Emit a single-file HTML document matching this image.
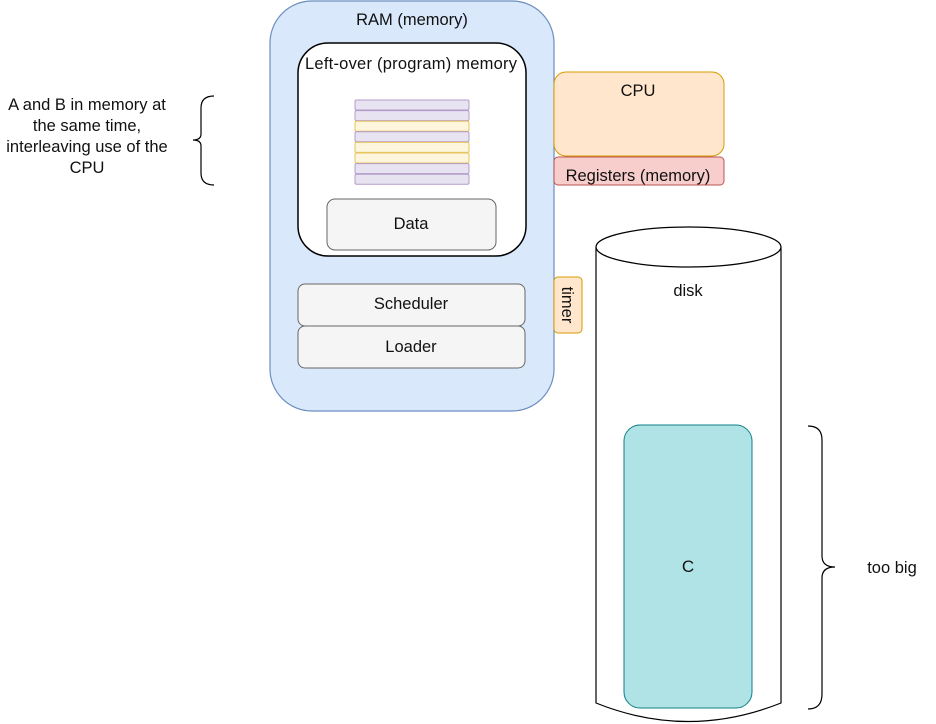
<!DOCTYPE html>
<html><head><style>body{margin:0;background:#fff}svg{display:block}text{font-family:"Liberation Sans",Arial,sans-serif;fill:#111}</style></head><body>
<svg width="936" height="724" viewBox="0 0 936 724" xmlns="http://www.w3.org/2000/svg">
<rect x="270" y="1" width="284" height="410" rx="42" fill="#dae8fc" stroke="#6c8ebf" stroke-width="1.2"/>
<text x="412" y="25" font-size="16.5" text-anchor="middle">RAM (memory)</text>
<rect x="298" y="43" width="228" height="213" rx="30" fill="#fff" stroke="#000" stroke-width="1.5"/>
<text x="411" y="69" font-size="16.5" text-anchor="middle" textLength="212">Left-over (program) memory</text>
<g stroke-width="1">
<rect x="355" y="100" width="114" height="10" rx="1.5" fill="#e8e3f0" stroke="#b49cc9"/>
<rect x="355" y="110.6" width="114" height="10" rx="1.5" fill="#e8e3f0" stroke="#b49cc9"/>
<rect x="355" y="121.2" width="114" height="10" rx="1.5" fill="#fdf5dc" stroke="#e6c560"/>
<rect x="355" y="131.8" width="114" height="10" rx="1.5" fill="#e8e3f0" stroke="#b49cc9"/>
<rect x="355" y="142.4" width="114" height="10" rx="1.5" fill="#fdf5dc" stroke="#e6c560"/>
<rect x="355" y="153" width="114" height="10" rx="1.5" fill="#fdf5dc" stroke="#e6c560"/>
<rect x="355" y="163.6" width="114" height="10" rx="1.5" fill="#e8e3f0" stroke="#b49cc9"/>
<rect x="355" y="174.2" width="114" height="10" rx="1.5" fill="#e8e3f0" stroke="#b49cc9"/>
</g>
<rect x="327" y="199" width="169" height="51" rx="8" fill="#f5f5f5" stroke="#666"/>
<text x="411" y="229" font-size="16.5" text-anchor="middle" fill="#333">Data</text>
<rect x="298" y="284" width="227" height="42" rx="7" fill="#f5f5f5" stroke="#666"/>
<text x="411" y="309" font-size="16.5" text-anchor="middle" fill="#333">Scheduler</text>
<rect x="298" y="326" width="227" height="42" rx="7" fill="#f5f5f5" stroke="#666"/>
<text x="411" y="352" font-size="16.5" text-anchor="middle" fill="#333">Loader</text>
<rect x="554" y="72" width="170" height="84" rx="12" fill="#ffe6cc" stroke="#d79b00"/>
<text x="638" y="96" font-size="16.5" text-anchor="middle">CPU</text>
<rect x="554" y="157" width="170" height="28" rx="4" fill="#f8cecc" stroke="#b85450"/>
<text x="638" y="181" font-size="16.5" text-anchor="middle">Registers (memory)</text>
<rect x="554" y="277" width="28" height="56" rx="4" fill="#ffe6cc" stroke="#d79b00"/>
<text transform="translate(562,305) rotate(90)" font-size="16.5" text-anchor="middle">timer</text>
<path d="M596 247 L596 703 Q688 740 781 703 L781 247" fill="#fff" stroke="#000" stroke-width="1.2"/>
<ellipse cx="688.5" cy="247" rx="92.5" ry="20" fill="#fff" stroke="#000" stroke-width="1.2"/>
<text x="688" y="296" font-size="16.5" text-anchor="middle">disk</text>
<rect x="624" y="425" width="128" height="283" rx="16" fill="#b0e3e6" stroke="#0e8088"/>
<text x="688" y="572" font-size="17" text-anchor="middle">C</text>
<path d="M808 426 Q822 426 822 440 L822 556 Q822 567 835 567 Q822 567 822 578 L822 694 Q822 709 808 709" fill="none" stroke="#000" stroke-width="1.2"/>
<text x="892" y="573" font-size="16.5" text-anchor="middle">too big</text>
<path d="M214 96 Q201 96 201 108 L201 134 Q201 140 193 140 Q201 140 201 146 L201 173 Q201 185 214 185" fill="none" stroke="#000" stroke-width="1.2"/>
<text font-size="16.5" text-anchor="middle"><tspan x="87" y="110">A and B in memory at</tspan><tspan x="87" y="131">the same time,</tspan><tspan x="87" y="152">interleaving use of the</tspan><tspan x="87" y="173">CPU</tspan></text>
</svg>
</body></html>
